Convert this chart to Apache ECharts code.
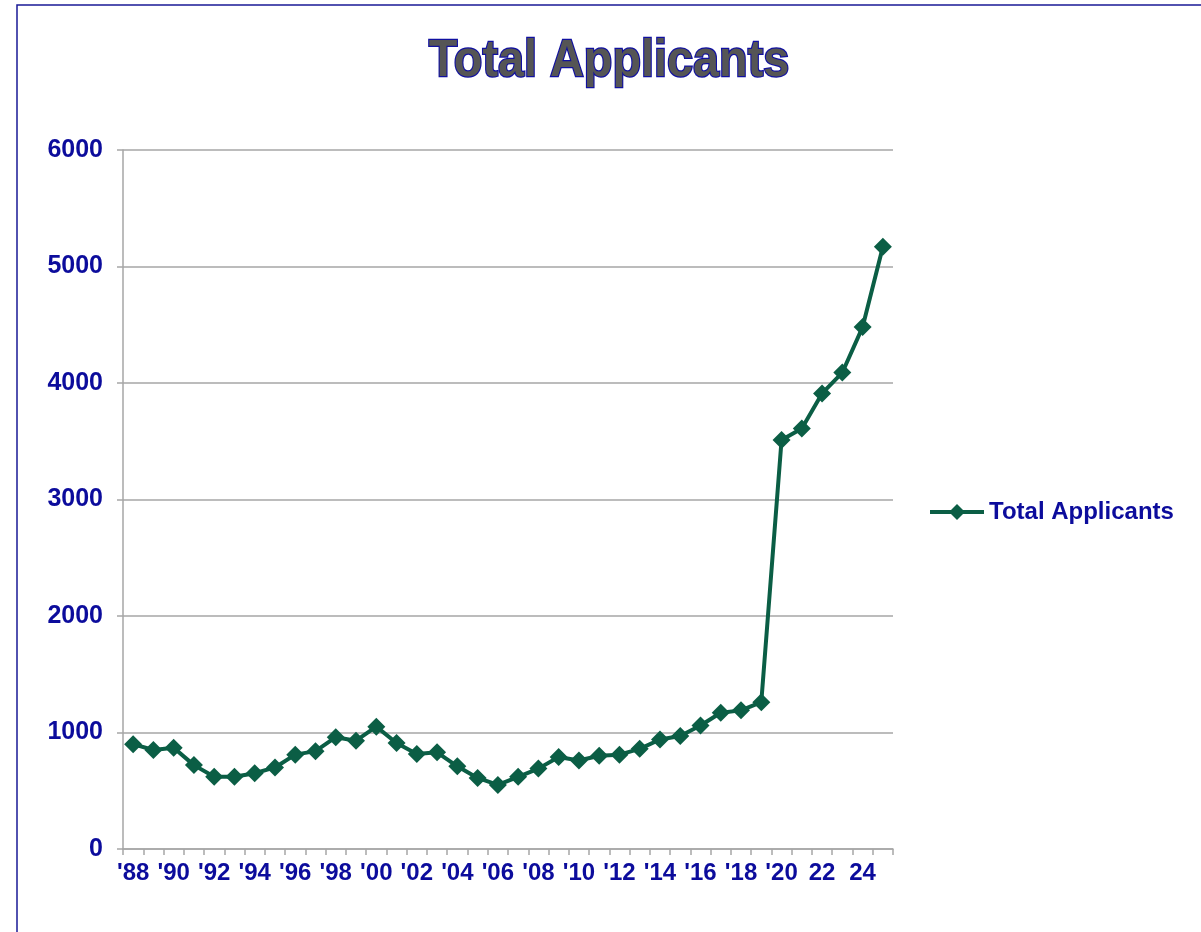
<!DOCTYPE html>
<html>
<head>
<meta charset="utf-8">
<title>Total Applicants</title>
<script src="https://cdn.jsdelivr.net/npm/echarts@6/dist/echarts.min.js"></script>
<style>
  html, body { margin: 0; padding: 0; background: #fff; }
  #chart { width: 1201px; height: 932px; }
</style>
</head>
<body>
<div id="chart"></div>
<script>
// years 1988 - 2025, label only every other one
const years = ["'88", "'89", "'90", "'91", "'92", "'93", "'94", "'95", "'96", "'97",
  "'98", "'99", "'00", "'01", "'02", "'03", "'04", "'05", "'06", "'07",
  "'08", "'09", "'10", "'11", "'12", "'13", "'14", "'15", "'16", "'17",
  "'18", "'19", "'20", "21", "22", "23", "24", "25"]
const applicants = [900, 850, 870, 720, 620, 620, 650, 700, 810, 840,
  960, 930, 1050, 910, 815, 830, 710, 610, 550, 620,
  690, 790, 760, 800, 810, 860, 940, 970, 1060, 1170,
  1190, 1260, 3510, 3610, 3910, 4090, 4480, 5170]
const yTicks = { min: 0, max: 6000, interval: 1000 }

const lineColor = '#0b5e45'
const labelColor = '#0c0c9c'
const gridColor = '#a6a6a6'
const font = 'Arial, "Liberation Sans", sans-serif'

const chart = echarts.init(document.getElementById('chart'))
chart.setOption({
  animation: false,
  graphic: [
    {
      type: 'rect',
      shape: { x: 17, y: 5, width: 1210, height: 950 },
      style: { fill: 'none', stroke: '#1a1a96', lineWidth: 1.5 }
    },
    {
      type: 'text',
      x: 609,
      y: 62,
      scaleX: 0.9,
      style: {
        text: 'Total Applicants',
        font: 'bold 52px ' + font,
        fill: '#555555',
        stroke: '#1010a0',
        lineWidth: 2.5,
        align: 'center',
        verticalAlign: 'middle'
      }
    }
  ],
  legend: {
    left: 923,
    top: 495,
    itemWidth: 54,
    itemHeight: 20,
    itemGap: 6,
    lineStyle: { width: 4 },
    textStyle: { color: labelColor, fontSize: 24, fontWeight: 'bold', fontFamily: font },
    data: ['Total Applicants']
  },
  grid: { left: 123, right: 308, top: 150, bottom: 83, containLabel: false },
  xAxis: {
    type: 'category',
    data: years,
    boundaryGap: true,
    axisLine: { lineStyle: { color: gridColor, width: 1.5 } },
    axisTick: { show: true, interval: 0, length: 6, lineStyle: { color: gridColor, width: 1.5 } },
    axisLabel: {
      interval: 1,
      margin: 12,
      color: labelColor,
      fontSize: 24,
      fontWeight: 'bold',
      fontFamily: font
    }
  },
  yAxis: {
    type: 'value',
    min: yTicks.min,
    max: yTicks.max,
    interval: yTicks.interval,
    axisLine: { show: true, lineStyle: { color: gridColor, width: 1.5 } },
    axisTick: { show: true, length: 6, lineStyle: { color: gridColor, width: 1.5 } },
    splitLine: { lineStyle: { color: gridColor, width: 1.5 } },
    axisLabel: {
      margin: 20,
      formatter: v => String(v),
      color: labelColor,
      fontSize: 25,
      fontWeight: 'bold',
      fontFamily: font
    }
  },
  series: [{
    name: 'Total Applicants',
    type: 'line',
    data: applicants,
    symbol: 'diamond',
    symbolSize: 18,
    showAllSymbol: true,
    lineStyle: { color: lineColor, width: 4 },
    itemStyle: { color: lineColor }
  }]
})
</script>
</body>
</html>
